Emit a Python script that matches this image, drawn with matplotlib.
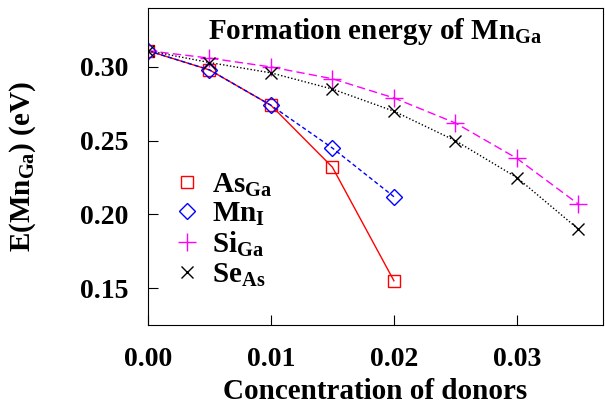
import matplotlib.pyplot as plt

plt.rcParams['font.family'] = ['Liberation Serif', 'DejaVu Serif']
plt.rcParams['font.weight'] = 'bold'
plt.rcParams['axes.labelweight'] = 'bold'
plt.rcParams['mathtext.fontset'] = 'custom'
plt.rcParams['mathtext.rm'] = 'Liberation Serif:bold'
plt.rcParams['mathtext.bf'] = 'Liberation Serif:bold'

# donor concentrations
x_short = [0.0, 0.005, 0.01, 0.015, 0.02]
x_long = [0.0, 0.005, 0.01, 0.015, 0.02, 0.025, 0.03, 0.035]

# formation energies (eV)
as_ga = [0.311, 0.298, 0.274, 0.232, 0.155]
mn_i = [0.311, 0.298, 0.274, 0.245, 0.212]
si_ga = [0.311, 0.306, 0.300, 0.292, 0.279, 0.262, 0.238, 0.207]
se_as = [0.311, 0.303, 0.296, 0.285, 0.270, 0.250, 0.225, 0.190]

fig = plt.figure(figsize=(6.05, 4.16), dpi=100)
ax = fig.add_axes([0.2446, 0.2188, 0.752, 0.762])

ax.plot(x_short, as_ga, color='red', lw=1.0, ls='-', marker='s', ms=8,
        mfc='none', mew=1.0, label=r'As$_{\mathrm{Ga}}$')
ax.plot(x_short, mn_i, color='blue', lw=1.0, ls=(0, (3, 2)), marker='D', ms=8,
        mfc='none', mew=1.0, label=r'Mn$_{\mathrm{I}}$')
ax.plot(x_long, si_ga, color='magenta', lw=1.0, ls=(0, (6, 3)), marker='+', ms=13,
        mew=1.0, label=r'Si$_{\mathrm{Ga}}$')
ax.plot(x_long, se_as, color='black', lw=1.0, ls=(0, (1, 1.5)), marker='x', ms=9,
        mew=1.0, label=r'Se$_{\mathrm{As}}$')

ax.set_xlim(0.0, 0.037)
ax.set_ylim(0.125, 0.34)
ax.set_xticks([0.0, 0.01, 0.02, 0.03])
ax.set_xticklabels(['0.00', '0.01', '0.02', '0.03'])
ax.set_yticks([0.15, 0.20, 0.25, 0.30])
ax.set_yticklabels(['0.15', '0.20', '0.25', '0.30'])
ax.tick_params(direction='in', length=7, labelsize=20)
ax.tick_params(axis='x', pad=16)
ax.tick_params(axis='y', pad=14)

ax.set_xlabel('Concentration of donors', fontsize=21, labelpad=4)
ax.set_ylabel(r'E(Mn$_{\mathrm{Ga}}$) (eV)', fontsize=21, labelpad=30)
ax.text(0.5, 0.975, r'Formation energy of Mn$_{\mathrm{Ga}}$', transform=ax.transAxes,
        ha='center', va='top', fontsize=21)

leg = ax.legend(loc='center left', bbox_to_anchor=(0.06, 0.30), frameon=False,
                fontsize=21, handlelength=0.8, handletextpad=0.45,
                labelspacing=0.05, borderpad=0, borderaxespad=0)
for line in leg.get_lines():
    line.set_linestyle('None')

plt.savefig('out.png', dpi=100)
